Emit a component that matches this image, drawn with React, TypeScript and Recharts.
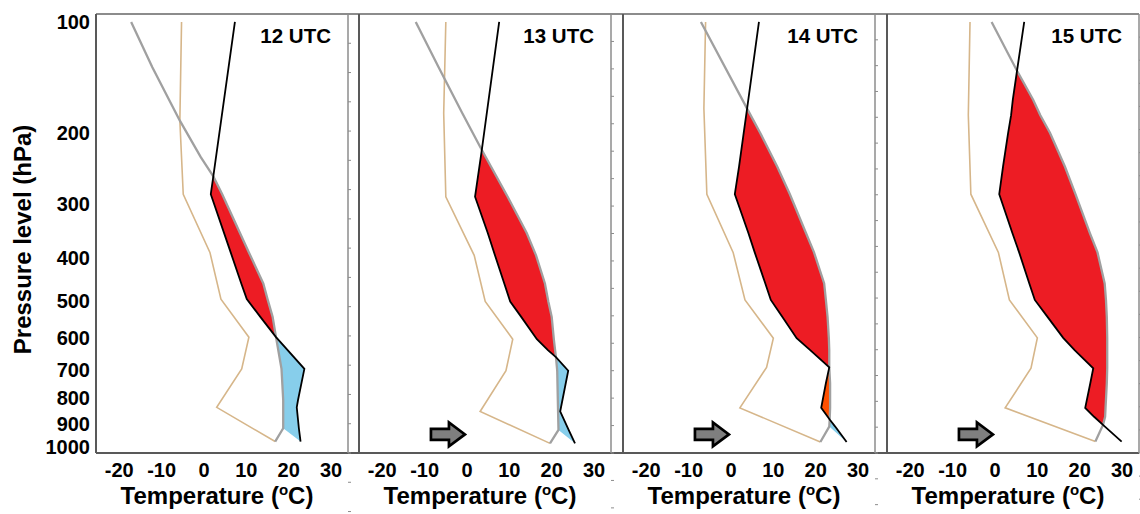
import React from 'react'
import { ComposedChart, Line, Area, XAxis, YAxis, ReferenceDot, Label } from 'recharts'

const FONT = '"Liberation Sans", Arial, Helvetica, sans-serif'

// soundings: pressure (hPa), temperature, dew point, lifted parcel (°C)
const P12 = [100, 134, 186, 230, 257, 284, 389, 457, 495, 541, 598, 697, 807, 835, 919, 976]
const T12 = [7.3, null, null, null, 2.2, 1.6, 6.3, 8.8, 10.1, 13.3, 17.0, 23.7, 22.2, 21.9, 22.4, 22.8]
const TD12 = [-5.3, null, -5.7, null, null, -4.9, 1.4, null, 4.0, null, 10.6, 8.9, null, 3.0, null, 16.8]
const TP12 = [-17.2, -12.2, -5.7, -0.8, 2.2, 4.3, 10.6, 14.0, 15.0, 16.2, 17.0, 18.3, 18.7, 18.7, 18.7, 16.8]

const P13 = [100, 134, 178, 221, 288, 351, 395, 457, 501, 541, 604, 637, 659, 703, 851, 926, 984]
const T13 = [7.6, null, null, 3.5, 1.9, 4.9, 6.6, 8.8, 10.2, 12.8, 16.5, 19.1, 21.0, 23.9, 22.0, 24.0, 25.5]
const TD13 = [-5.0, null, -5.5, null, -5.0, null, 1.7, null, 4.3, null, 10.8, null, null, 9.2, 3.1, null, 19.6]
const TP13 = [-12.1, -6.7, -1.1, 3.5, 9.6, 14.1, 16.3, 18.4, 19.2, 20.0, 20.5, 20.8, 21.0, 21.3, 21.5, 21.6, 19.6]

const P14 = [100, 173, 200, 243, 284, 351, 389, 457, 497, 541, 601, 637, 692, 746, 837, 883, 912, 978]
const T14 = [6.6, 3.8, 3.0, 1.9, 0.9, 4.1, 5.6, 8.1, 9.4, 12.1, 15.5, 18.7, 23.2, 22.4, 21.3, 23.3, 24.6, 27.3]
const TD14 = [-6.0, -6.4, null, null, -5.7, null, 0.5, null, 3.3, null, 10.0, null, 8.4, null, 2.1, null, null, 21.1]
const TP14 = [-7.1, 3.8, 6.9, 10.9, 13.9, 17.7, 19.6, 22.0, 22.4, 22.8, 23.1, 23.2, 23.2, 23.4, 23.4, 23.3, 23.2, 21.1]

const P15 = [100, 137, 164, 180, 200, 243, 284, 351, 389, 457, 497, 541, 600, 637, 695, 746, 837, 872, 905, 976]
const T15 = [6.9, 5.2, 4.2, 3.8, 3.1, 1.9, 1.0, 4.1, 5.7, 8.1, 9.4, 12.4, 16.1, 18.8, 23.2, 22.5, 21.3, 23.4, 25.5, 29.9]
const TD15 = [-5.9, null, null, -6.3, null, null, -5.7, null, 0.8, null, 3.4, null, 10.0, null, 8.5, null, 2.4, null, null, 23.7]
const TP15 = [-0.8, 5.2, 9.0, 10.7, 13.0, 16.5, 19.0, 22.4, 24.2, 25.9, 26.2, 26.4, 26.5, 26.5, 26.5, 26.4, 26.1, 26.0, 25.5, 23.7]

// equilibrium level per panel (top of the shaded area), hPa
const EL = [257, 221, 173, 137]
// below this level positive area is drawn orange (14 UTC only)
const LOW_SPLIT = [Infinity, Infinity, 692, Infinity]

const PRESSURE_TICKS = [100, 200, 300, 400, 500, 600, 700, 800, 900, 1000]
const TEMP_TICKS = [-20, -10, 0, 10, 20, 30]
const FRAME_TICKS = [1, 2, 3, 4, 5, 6, 7, 8, 9, 10, 11, 12, 13, 14, 15, 16, 17, 18, 19, 20, 21, 22, 23, 24, 25, 26, 27, 28, 29]
const ARROW_AT = { t: -4.5, p: 945 }

// stretched pressure coordinate used by the figure
const K = 0.17
const toY = (p: number) => Math.pow(p / 1000, K)
const toP = (v: number) => Math.round(1000 * Math.pow(v, 1 / K))
const Y_DOMAIN = [0.67, 1.0046]
const X_DOMAIN = [-25.5, 34]

const PLOT_W = 252
const PANEL_LEFT = [96, 359, 623, 887]

const panels = [
  { title: '12 UTC', p: P12, t: T12, td: TD12, tp: TP12, arrow: false },
  { title: '13 UTC', p: P13, t: T13, td: TD13, tp: TP13, arrow: true },
  { title: '14 UTC', p: P14, t: T14, td: TD14, tp: TP14, arrow: true },
  { title: '15 UTC', p: P15, t: T15, td: TD15, tp: TP15, arrow: true },
]

function buildRows(c: any, el: number, split: number) {
  const n = c.p.length
  return c.p.map((p: number, i: number) => {
    const t = c.t[i]
    const tp = c.tp[i]
    const row: any = { y: toY(p), t, td: c.td[i], tp }
    if (p >= el && t != null && tp != null) {
      if (i === n - 1) {
        row.blue = [t, t]
      } else {
        if (tp >= t && p <= split) row.red = [t, tp]
        if (tp >= t && p >= split) row.orange = [t, tp]
        if (t >= tp) row.blue = [tp, t]
      }
    }
    return row
  })
}

const PressureTick = (props: any) => (
  <text x={props.x} y={props.y} dy="0.36em" textAnchor="end" fontFamily={FONT} fontWeight="bold" fontSize={20} fill="#000">
    {toP(props.payload.value)}
  </text>
)

const TempTick = (props: any) => (
  <text x={props.x} y={props.y + 24} textAnchor="middle" fontFamily={FONT} fontWeight="bold" fontSize={20} fill="#000">
    {props.payload.value}
  </text>
)

const NoTick = () => <g />

const XTitle = ({ viewBox }: any) => (
  <text x={viewBox.x + viewBox.width / 2 - 5} y={viewBox.y + 51} textAnchor="middle" fontFamily={FONT} fontWeight="bold" fontSize={24} fill="#000">
    Temperature (<tspan dy={-9} fontSize={15}>o</tspan><tspan dy={9}>C)</tspan>
  </text>
)

const YTitle = ({ viewBox }: any) => {
  const cx = 31
  const cy = viewBox.y + viewBox.height / 2 + 6
  return (
    <text x={cx} y={cy} transform={`rotate(-90, ${cx}, ${cy})`} textAnchor="middle" fontFamily={FONT} fontWeight="bold" fontSize={24} fill="#000">
      Pressure level (hPa)
    </text>
  )
}

const panelTitle = (title: string) => ({ viewBox }: any) => (
  <text x={viewBox.x - 17} y={viewBox.y + 29} textAnchor="end" fontFamily={FONT} fontWeight="bold" fontSize={20.5} fill="#000">
    {title}
  </text>
)

const Arrow = ({ cx, cy }: any) => (
  <polygon
    points={`${cx - 17},${cy - 5.5} ${cx + 1},${cy - 5.5} ${cx + 1},${cy - 12} ${cx + 17},${cy} ${cx + 1},${cy + 12} ${cx + 1},${cy + 5.5} ${cx - 17},${cy + 5.5}`}
    fill="#7f7f7f"
    stroke="#000"
    strokeWidth={2.7}
  />
)

function Panel({ idx }: { idx: number }) {
  const c = panels[idx]
  const first = idx === 0
  const axisW = first ? 96 : 4
  const rows = buildRows(c, EL[idx], LOW_SPLIT[idx])
  return (
    <div style={{ position: 'absolute', left: PANEL_LEFT[idx] - axisW, top: 0 }}>
      <ComposedChart
        width={axisW + PLOT_W + 4}
        height={514}
        layout="vertical"
        data={rows}
        margin={{ top: 14, right: 0, bottom: 0, left: 0 }}
      >
        <XAxis
          type="number"
          domain={X_DOMAIN}
          ticks={TEMP_TICKS}
          allowDataOverflow
          interval={0}
          height={61}
          axisLine={false}
          tickLine={false}
          tickSize={0}
          tickMargin={0}
          tick={TempTick}
        >
          <Label content={XTitle} />
        </XAxis>
        <YAxis
          type="number"
          dataKey="y"
          domain={Y_DOMAIN}
          allowDataOverflow
          ticks={PRESSURE_TICKS.map(toY)}
          interval={0}
          width={axisW}
          axisLine={{ stroke: '#595959', strokeWidth: 2 }}
          tickLine={false}
          tickSize={0}
          tickMargin={6}
          tick={first ? PressureTick : false}
        >
          {first && <Label content={YTitle} />}
        </YAxis>
        <YAxis
          yAxisId="r"
          orientation="right"
          type="number"
          domain={[0, 30]}
          ticks={FRAME_TICKS}
          interval={0}
          width={4}
          tickSize={3}
          tick={NoTick}
          axisLine={{ stroke: '#8c8c8c', strokeWidth: 1.5 }}
          tickLine={{ stroke: '#8c8c8c' }}
        >
          <Label content={panelTitle(c.title)} />
        </YAxis>

        <Area dataKey="red" type="linear" fill="#ED1C24" fillOpacity={1} stroke="none" isAnimationActive={false} activeDot={false} />
        <Area dataKey="orange" type="linear" fill="#FF5000" fillOpacity={1} stroke="none" isAnimationActive={false} activeDot={false} />
        <Area dataKey="blue" type="linear" fill="#87CEEB" fillOpacity={1} stroke="none" isAnimationActive={false} activeDot={false} />

        <Line dataKey="td" type="linear" stroke="#D6B68A" strokeWidth={1.6} dot={false} connectNulls isAnimationActive={false} />
        <Line dataKey="tp" type="linear" stroke="#A0A0A0" strokeWidth={2.3} dot={false} connectNulls isAnimationActive={false} />
        <Line dataKey="t" type="linear" stroke="#000" strokeWidth={1.8} dot={false} connectNulls isAnimationActive={false} />

        {c.arrow && <ReferenceDot x={ARROW_AT.t} y={toY(ARROW_AT.p)} shape={Arrow} />}
      </ComposedChart>
    </div>
  )
}

export default function App() {
  return (
    <div style={{ position: 'absolute', left: 0, top: 0, width: 1140, height: 514, overflow: 'hidden', background: '#fff' }}>
      <div style={{ position: 'absolute', left: 96, top: 13, width: 1043, height: 1.5, background: '#8c8c8c' }} />
      <div style={{ position: 'absolute', left: 96, top: 452, width: 1043, height: 2, background: '#595959' }} />
      {panels.map((_, i) => (
        <Panel key={i} idx={i} />
      ))}
    </div>
  )
}
